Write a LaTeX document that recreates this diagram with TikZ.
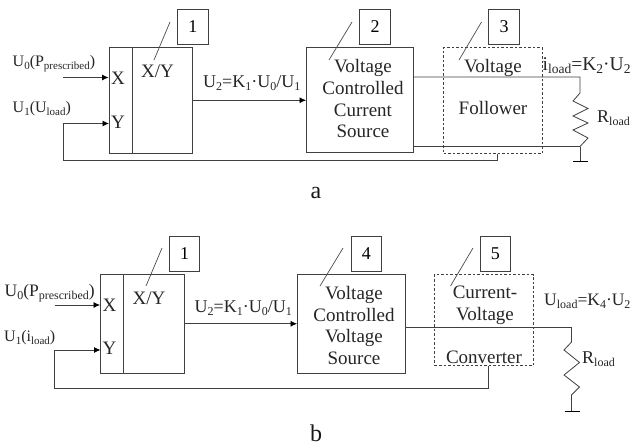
\documentclass[tikz,border=0pt]{standalone}
\usepackage{fontspec}
\setmainfont{Liberation Serif}
\usetikzlibrary{arrows.meta}
\newcommand{\lowtxt}[1]{\raisebox{-0.2em}{\fontsize{12}{12}\selectfont #1}}
\newcommand{\lowsm}[1]{\raisebox{-0.2em}{\fontsize{11}{11}\selectfont #1}}
\newcommand{\lowbg}[1]{\raisebox{-0.2em}{\fontsize{13.5}{14}\selectfont #1}}
\tikzset{
  x=1pt,y=-1pt,
  wire/.style={draw=black!75,line width=0.8pt},
  arrowwire/.style={wire,-{Latex[length=6.5pt,width=6pt,black]}},
  leader/.style={draw=black!70,line width=0.7pt},
  block/.style={draw=black!75,line width=0.9pt,inner sep=0pt},
  dashblock/.style={draw=black!75,line width=0.7pt,dashed,dash pattern=on 2.5pt off 2pt,inner sep=0pt},
  tag/.style={draw=black!75,line width=0.9pt,inner sep=0pt,minimum width=30.5pt,minimum height=34.5pt,font=\fontsize{18}{18}\selectfont},
  lbl/.style={inner sep=0pt,anchor=base west,text=black!85,font=\fontsize{18}{18}\selectfont},
  lblsm/.style={lbl,font=\fontsize{16}{16}\selectfont},
  lblbg/.style={lbl,font=\fontsize{19.5}{20}\selectfont},
  lblxy/.style={lbl,font=\fontsize{19}{19}\selectfont},
  mid/.style={inner sep=0pt,anchor=base,text=black!85,font=\fontsize{19}{19}\selectfont},
  big/.style={inner sep=0pt,anchor=base,text=black!90,font=\fontsize{24}{24}\selectfont},
}
\begin{document}
\begin{tikzpicture}
\useasboundingbox (0,0) rectangle (634,445);
\fill[white] (0,0) rectangle (634,445);
% ---------- a ----------
\node[block,minimum width=83.5pt,minimum height=105.5pt] (divA) at (150.75,100.25) {};
\coordinate (divAt) at (132.5,47.5); \coordinate (divAb) at (132.5,153);
\draw[wire] (divAt) -- (divAb);
\node[block,minimum width=107pt,minimum height=105pt] (ccs) at (360,100.25) {};
\node[dashblock,minimum width=98.5pt,minimum height=106pt] (follow) at (492.75,100.5) {};
\node[tag] (tA1) at (192.75,26.75) {1};
\node[tag] (tA2) at (375,26.75) {2};
\node[tag] (tA3) at (504,26.75) {3};
\coordinate (lA1a) at (170,22); \coordinate (lA1b) at (154,60);
\coordinate (lA2a) at (352,22); \coordinate (lA2b) at (329,60);
\coordinate (lA3a) at (481.5,22); \coordinate (lA3b) at (459,60);
\draw[leader] (lA1a) -- (lA1b);
\draw[leader] (lA2a) -- (lA2b);
\draw[leader] (lA3a) -- (lA3b);
\coordinate (inAx) at (63,77.5);
\coordinate (inAyEnd) at (109,123.5);
\coordinate (fbA1) at (63,123.5);
\coordinate (fbA2) at (63,160.5);
\coordinate (fbA3) at (497,160.5);
\coordinate (loadAt) at (580,77);
\coordinate (loadAb) at (580,146.5);
\coordinate (gndA) at (580,161);
\coordinate (gndAl) at (573,161.5);
\coordinate (gndAr) at (588,161.5);
\draw[arrowwire] (inAx) -- (inAx -| divA.west);
\draw[wire] (follow.south -| fbA3) -- (fbA3) -- (fbA2) -- (fbA1);
\draw[arrowwire] (fbA1) -- (inAyEnd);
\draw[arrowwire] (divA.east) -- (ccs.west);
\draw[wire] (ccs.east |- loadAt) -- (loadAt) -- (580,93) -- (573,101) -- (588,108.5) -- (573,116) -- (588,123) -- (573,130) -- (588,138) -- (loadAb) -- (ccs.east |- loadAb);
\draw[wire] (loadAb) -- (gndA);
\draw[line width=1.6pt,black] (gndAl) -- (gndAr);
% ---------- b ----------
\node[block,minimum width=83.5pt,minimum height=98.5pt] (divB) at (142.25,323.75) {};
\coordinate (divBt) at (123.5,274.5); \coordinate (divBb) at (123.5,373);
\draw[wire] (divBt) -- (divBb);
\node[block,minimum width=107.5pt,minimum height=98.5pt] (vcv) at (351.25,323.75) {};
\node[dashblock,minimum width=98.5pt,minimum height=91pt] (conv) at (483.75,320) {};
\node[tag] (tB1) at (184.5,253.75) {1};
\node[tag] (tB4) at (366.25,253.75) {4};
\node[tag] (tB5) at (495.25,253.75) {5};
\coordinate (lB1a) at (162,248); \coordinate (lB1b) at (146,286);
\coordinate (lB4a) at (343,248); \coordinate (lB4b) at (320,286);
\coordinate (lB5a) at (473,248); \coordinate (lB5b) at (450.5,286);
\draw[leader] (lB1a) -- (lB1b);
\draw[leader] (lB4a) -- (lB4b);
\draw[leader] (lB5a) -- (lB5b);
\coordinate (inBx) at (54.5,305);
\coordinate (inByEnd) at (100.5,350);
\coordinate (fbB1) at (54.5,350);
\coordinate (fbB2) at (54.5,388);
\coordinate (fbB3) at (488.5,388);
\coordinate (loadBt) at (571.5,327.5);
\coordinate (gndB) at (571.5,411);
\coordinate (gndBl) at (564.5,411.5);
\coordinate (gndBr) at (580,411.5);
\draw[arrowwire] (inBx) -- (inBx -| divB.west);
\draw[wire] (conv.south -| fbB3) -- (fbB3) -- (fbB2) -- (fbB1);
\draw[arrowwire] (fbB1) -- (inByEnd);
\draw[arrowwire] (divB.east) -- (vcv.west);
\draw[wire] (vcv.east |- loadBt) -- (loadBt) -- (571.5,342) -- (564,350) -- (579.5,362.5) -- (564,375) -- (579.5,387) -- (571.5,395) -- (gndB);
\draw[line width=1.6pt,black] (gndBl) -- (gndBr);
% ---------- texts a ----------
\node[lblsm] (ta1) at (12.5,66) {U\lowsm{0}(P\lowsm{prescribed})};
\node[lblsm] (ta2) at (12.5,112) {U\lowsm{1}(U\lowsm{load})};
\node[lblxy] (ta3) at (111,84) {X};
\node[lblxy] (ta4) at (111,128) {Y};
\node[mid] (ta5) at (157.5,77) {X/Y};
\node[lbl] (ta6) at (203,87) {U\lowtxt{2}=K\lowtxt{1}·U\lowtxt{0}/U\lowtxt{1}};
\node[mid] (ta7) at (363,72.5) {Voltage};
\node[mid] (ta8) at (363,94.5) {Controlled};
\node[mid] (ta9) at (363,116) {Current};
\node[mid] (ta10) at (363,137) {Source};
\node[mid] (ta11) at (493,72) {Voltage};
\node[mid] (ta12) at (493,114) {Follower};
\node[lblbg] (ta13) at (542.5,70) {i\lowbg{load}=K\lowbg{2}·U\lowbg{2}};
\node[lbl] (ta14) at (597,122) {R\lowtxt{load}};
\node[big] (ta15) at (316,198) {a};
% ---------- texts b ----------
\node[lbl,font=\fontsize{17.5}{18}\selectfont] (tb1) at (4.5,296) {U\lowtxt{0}(P\lowtxt{prescribed})};
\node[lblsm] (tb2) at (4,341) {U\lowsm{1}(i\lowsm{load})};
\node[lblxy] (tb3) at (102.5,311) {X};
\node[lblxy] (tb4) at (102.5,354) {Y};
\node[mid] (tb5) at (149,304) {X/Y};
\node[lbl] (tb6) at (194.5,312) {U\lowtxt{2}=K\lowtxt{1}·U\lowtxt{0}/U\lowtxt{1}};
\node[mid] (tb7) at (354,299) {Voltage};
\node[mid] (tb8) at (354,321) {Controlled};
\node[mid] (tb9) at (354,342.5) {Voltage};
\node[mid] (tb10) at (354,364) {Source};
\node[mid] (tb11) at (485,298) {Current-};
\node[mid] (tb12) at (485,320) {Voltage};
\node[mid] (tb13) at (484,363) {Converter};
\node[lbl,font=\fontsize{17.5}{18}\selectfont] (tb14) at (544,305) {U\lowtxt{load}=K\lowtxt{4}·U\lowtxt{2}};
\node[lbl] (tb15) at (582,363) {R\lowtxt{load}};
\node[big] (tb16) at (316,441) {b};
\end{tikzpicture}
\end{document}
